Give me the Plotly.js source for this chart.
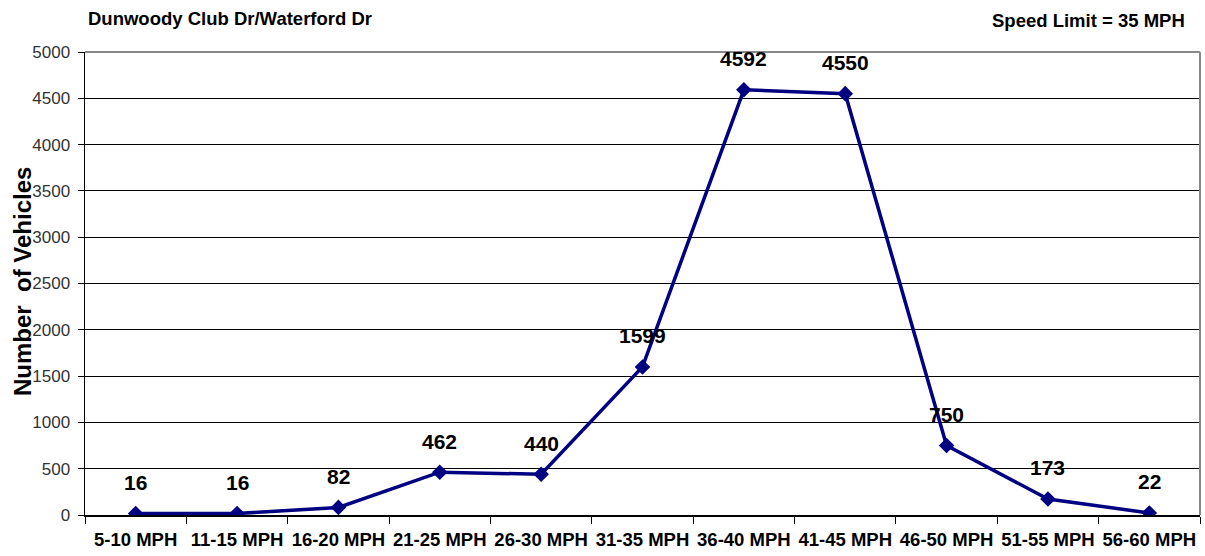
<!DOCTYPE html>
<html><head><meta charset="utf-8">
<script src="https://cdn.plot.ly/plotly-3.0.1.min.js"></script>
<style>html,body{margin:0;padding:0;background:#fff}#chart{width:1205px;height:556px}</style>
</head><body><div id="chart"></div>
<script>
const categories = ["5-10 MPH","11-15 MPH","16-20 MPH","21-25 MPH","26-30 MPH","31-35 MPH","36-40 MPH","41-45 MPH","46-50 MPH","51-55 MPH","56-60 MPH"];
const vehicles = [16,16,82,462,440,1599,4592,4550,750,173,22];
const yTicks = [0,500,1000,1500,2000,2500,3000,3500,4000,4500,5000];

const F = "Liberation Sans, Arial, sans-serif";
const trace = {
  x: categories, y: vehicles, type: 'scatter', mode: 'lines+markers',
  line: {color: '#000080', width: 3.5},
  marker: {symbol: 'diamond', size: 12, color: '#000080'},
  hoverinfo: 'skip'
};
const labelAnns = categories.map((c, i) => ({
  x: c, y: vehicles[i], xref: 'x', yref: 'y', text: String(vehicles[i]),
  showarrow: false, yshift: 31, font: {family: F, size: 21, color: '#000', weight: 'bold'}
}));
const layout = {
  width: 1205, height: 556,
  margin: {l: 85, r: 5, t: 52, b: 41},
  paper_bgcolor: '#fff', plot_bgcolor: '#fff',
  showlegend: false,
  xaxis: {
    type: 'category', tickson: 'boundaries', ticks: 'outside', ticklen: 7, tickcolor: '#000',
    showgrid: false, showline: true, linecolor: '#000', linewidth: 1.5, mirror: false,
    tickfont: {family: F, size: 18.5, color: '#000', weight: 'bold'}, tickangle: 0,
    ticklabelstandoff: 7,
    range: [-0.5, 10.5], zeroline: false
  },
  yaxis: {
    range: [0, 5000], tickvals: yTicks, ticks: 'outside', ticklen: 6, tickcolor: '#000',
    showgrid: true, gridcolor: '#000', gridwidth: 1, showline: true, linecolor: '#000', linewidth: 1.5,
    tickfont: {family: F, size: 17, color: '#333'}, zeroline: false, fixedrange: true,
    ticklabelstandoff: 4
  },
  shapes: [
    {type: 'line', xref: 'paper', yref: 'paper', x0: 0, x1: 1, y0: 1, y1: 1, line: {color: '#888', width: 2}},
    {type: 'line', xref: 'paper', yref: 'paper', x0: 1, x1: 1, y0: 0, y1: 1, line: {color: '#888', width: 2}}
  ],
  annotations: labelAnns.concat([
    {xref: 'paper', yref: 'paper', x: (86-85)/1115, y: 1 + (52-18)/463, xanchor: 'left', yanchor: 'middle',
     text: 'Dunwoody Club Dr/Waterford Dr', showarrow: false, font: {family: F, size: 18.5, color: '#000', weight: 'bold'}},
    {xref: 'paper', yref: 'paper', x: (1187-85)/1115, y: 1 + (52-21)/463, xanchor: 'right', yanchor: 'middle',
     text: 'Speed Limit = 35 MPH', showarrow: false, font: {family: F, size: 18.5, color: '#000', weight: 'bold'}},
    {xref: 'paper', yref: 'paper', x: (22-85)/1115, y: (515-282)/463, xanchor: 'center', yanchor: 'middle',
     text: 'Number  of Vehicles', textangle: -90, showarrow: false, font: {family: F, size: 24, color: '#000', weight: 'bold'}}
  ])
};
Plotly.newPlot('chart', [trace], layout, {displayModeBar: false, staticPlot: true});
</script></body></html>
